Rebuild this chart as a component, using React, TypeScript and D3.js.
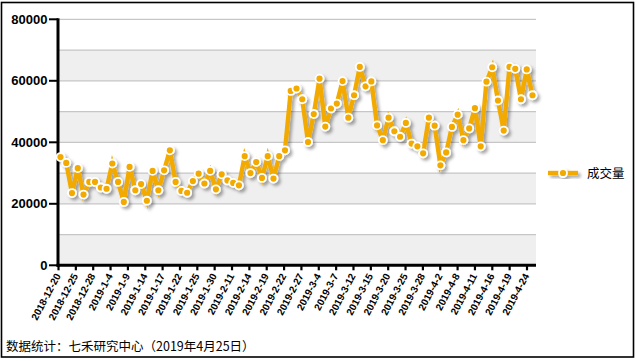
import React from "react";
import * as d3 from "d3";

const categories: string[] = [
  "2018-12-20","2018-12-21","2018-12-24","2018-12-25","2018-12-26","2018-12-27","2018-12-28",
  "2019-1-2","2019-1-3","2019-1-4","2019-1-7","2019-1-8","2019-1-9","2019-1-10","2019-1-11",
  "2019-1-14","2019-1-15","2019-1-16","2019-1-17","2019-1-18","2019-1-21","2019-1-22","2019-1-23",
  "2019-1-24","2019-1-25","2019-1-28","2019-1-29","2019-1-30","2019-1-31","2019-2-1","2019-2-11",
  "2019-2-12","2019-2-13","2019-2-14","2019-2-15","2019-2-18","2019-2-19","2019-2-20","2019-2-21",
  "2019-2-22","2019-2-25","2019-2-26","2019-2-27","2019-2-28","2019-3-1","2019-3-4","2019-3-5",
  "2019-3-6","2019-3-7","2019-3-8","2019-3-11","2019-3-12","2019-3-13","2019-3-14","2019-3-15",
  "2019-3-18","2019-3-19","2019-3-20","2019-3-21","2019-3-22","2019-3-25","2019-3-26","2019-3-27",
  "2019-3-28","2019-3-29","2019-4-1","2019-4-2","2019-4-3","2019-4-4","2019-4-8","2019-4-9",
  "2019-4-10","2019-4-11","2019-4-12","2019-4-15","2019-4-16","2019-4-17","2019-4-18","2019-4-19",
  "2019-4-22","2019-4-23","2019-4-24","2019-4-25"
];

const volume: number[] = [
  35200, 33300, 23500, 31600, 23000, 27100, 27100, 25300, 24900, 33100,
  27100, 20600, 32000, 24400, 26400, 21000, 30700, 24400, 30900, 37400,
  27100, 24200, 23600, 27400, 29800, 26600, 30700, 24700, 29600, 27600,
  26800, 26000, 35500, 30000, 33600, 28400, 35500, 28200, 35500, 37400,
  56700, 57500, 54000, 40100, 49200, 60700, 45100, 51000, 52600, 59900,
  48000, 55300, 64500, 58200, 59800, 45500, 40700, 48000, 43600, 41800,
  46300, 39600, 38700, 36400, 48000, 45400, 32500, 36700, 45000, 49000,
  40700, 44500, 51100, 38700, 59700, 64400, 53600, 43800, 64500, 63900,
  54000, 63700, 55300
];

const yTickLabels: number[] = [0, 20000, 40000, 60000, 80000];
const gridValues: number[] = [0, 10000, 20000, 30000, 40000, 50000, 60000, 70000, 80000];
const seriesName = "成交量";
const footer = "数据统计：七禾研究中心（2019年4月25日）";

const W = 637;
const H = 361;
const ORANGE = "#F2A900";

export default function App() {
  const plotL = 58, plotR = 536, plotT = 19.3, plotB = 265.3;
  const y = d3.scaleLinear().domain([0, 80000]).range([plotB, plotT]);
  const x = d3.scaleLinear().domain([0, categories.length - 1]).range([60.5, 532.5]);
  const labelIdx = d3.range(0, categories.length, 3).filter((i) => i <= 81);
  const tickX = d3.scaleLinear().domain([0, 81]).range([58.5, 527]);

  const line = d3.line<number>().x((_, i) => x(i)).y((d) => y(d));
  const pathD = line(volume) || "";

  return (
    <svg width={W} height={H} style={{ position: "absolute", left: 0, top: 0, background: "#fff" }}
      fontFamily="'Liberation Sans', Arial, sans-serif">
      <defs>
        <filter id="sh" x="-10%" y="-10%" width="130%" height="130%">
          <feDropShadow dx="2.5" dy="2.5" stdDeviation="1.6" floodColor="#000" floodOpacity="0.35" />
        </filter>
      </defs>
      <rect x={1.5} y={2.5} width={632} height={354.5} fill="#fff" stroke="#000" strokeWidth={1.6} />
      {[0, 20000, 40000, 60000].map((v) => (
        <rect key={v} x={plotL} y={y(v + 10000)} width={plotR - plotL} height={y(v) - y(v + 10000)} fill="#EFEFEF" />
      ))}
      {gridValues.map((v) => (
        <line key={v} x1={plotL} x2={plotR} y1={y(v)} y2={y(v)} stroke="#C6C6C6" strokeWidth={1.2} />
      ))}
      <line x1={plotL} x2={plotL} y1={plotT - 1} y2={plotB + 1.5} stroke="#000" strokeWidth={3} />
      <line x1={plotL - 1.5} x2={plotR} y1={plotB} y2={plotB} stroke="#000" strokeWidth={3} />
      {yTickLabels.map((v) => (
        <g key={v}>
          <line x1={plotL - 9} x2={plotL} y1={y(v)} y2={y(v)} stroke="#000" strokeWidth={2} />
          <text x={plotL - 10.5} y={y(v) + 4.6} textAnchor="end" fontSize={13} fontWeight="bold" fill="#000">{v}</text>
        </g>
      ))}
      {labelIdx.map((i) => (
        <g key={i}>
          <line x1={tickX(i)} x2={tickX(i)} y1={plotB} y2={plotB + 5} stroke="#000" strokeWidth={2.2} />
          <text transform={`translate(${tickX(i) + 2.5},${plotB + 10.5}) rotate(-62)`} textAnchor="end"
            fontSize={10} fontWeight="bold" fill="#000">{categories[i]}</text>
        </g>
      ))}
      <g filter="url(#sh)">
        <path d={pathD} fill="none" stroke={ORANGE} strokeWidth={4.4} strokeLinejoin="miter" />
        {volume.map((v, i) => (
          <circle key={i} cx={x(i)} cy={y(v)} r={4} fill={ORANGE} stroke="#fff" strokeWidth={1.8} />
        ))}
      </g>
      <g filter="url(#sh)">
        <line x1={548} x2={578} y1={173} y2={173} stroke={ORANGE} strokeWidth={4.4} />
        <circle cx={563} cy={173} r={4} fill={ORANGE} stroke="#fff" strokeWidth={1.8} />
      </g>
      <text x={587} y={177.5} fontSize={12.5} fill="#000" fontFamily="'Noto Sans CJK SC', sans-serif">{seriesName}</text>
      <text x={6} y={351} fontSize={12.5} fill="#000" fontFamily="'Noto Sans CJK SC', sans-serif">{footer}</text>
    </svg>
  );
}
